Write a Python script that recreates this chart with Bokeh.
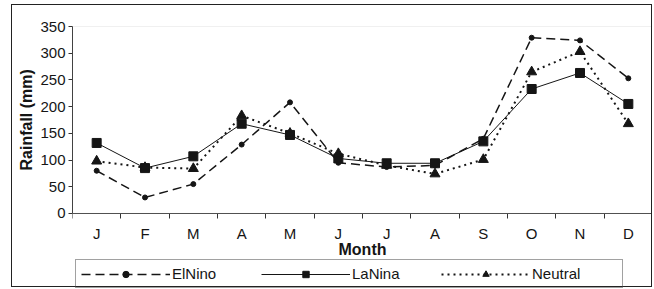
from bokeh.plotting import figure
from bokeh.models import (Range1d, FixedTicker, Legend, LegendItem, BoxAnnotation, Title)
from bokeh.embed import file_html
from bokeh.resources import INLINE

months = ["J", "F", "M", "A", "M", "J", "J", "A", "S", "O", "N", "D"]
elnino = [80, 30, 55, 129, 208, 95, 87, 90, 140, 329, 324, 253]
lanina = [132, 85, 107, 168, 147, 103, 94, 94, 135, 233, 263, 205]
neutral = [98, 86, 84, 183, 150, 112, 90, 74, 101, 265, 303, 168]
y_ticks = [0, 50, 100, 150, 200, 250, 300, 350]
y_min, y_max = 0, 350

x = list(range(1, len(months) + 1))
INK = "#151515"
FONT = "Liberation Sans"

# the frame also holds the legend strip below the x axis (axis fixed at y=0)
p = figure(width=641, height=283, output_backend="svg", toolbar_location=None,
           x_range=Range1d(0.5, len(months) + 0.5), y_range=Range1d(-140.4, y_max),
           min_border_left=60, min_border_right=1, min_border_top=21,
           min_border_bottom=0)
p.margin = (4, 0, 0, 11)
p.styles = {"border": "1px solid #222222"}
p.xgrid.visible = False
p.ygrid.visible = False
p.outline_line_color = None

# plot-area border (grey) around the data region
p.add_layout(BoxAnnotation(left=0.5, right=len(months) + 0.5, bottom=y_min, top=y_max,
                           fill_alpha=0, line_color="#9a9a9a", line_width=1))

# x axis: labels at month centres, tick marks at category boundaries
p.xaxis.fixed_location = y_min
p.xaxis.ticker = FixedTicker(ticks=x, minor_ticks=[v + 0.5 for v in range(0, len(months) + 1)])
p.xaxis.major_label_overrides = {i + 1: m for i, m in enumerate(months)}
p.xaxis.major_tick_out = 0
p.xaxis.major_tick_in = 0
p.xaxis.minor_tick_out = 5
p.xaxis.minor_tick_in = 0
p.xaxis.minor_tick_line_color = "#333333"
p.xaxis.major_label_standoff = 7
p.xaxis.axis_label = "Month"
p.xaxis.axis_label_standoff = -5

p.yaxis.ticker = FixedTicker(ticks=y_ticks, minor_ticks=[])
p.yaxis.bounds = (y_min, y_max)
p.yaxis.major_tick_out = 4
p.yaxis.major_tick_in = 0
p.yaxis.major_label_standoff = 3

for ax in (p.xaxis, p.yaxis):
    ax.axis_line_color = "#333333"
    ax.major_tick_line_color = "#333333"
    ax.major_label_text_font = FONT
    ax.major_label_text_font_size = "15px"
    ax.major_label_text_color = INK
    ax.axis_label_text_font = FONT
    ax.axis_label_text_font_size = "16px"
    ax.axis_label_text_font_style = "bold"
    ax.axis_label_text_color = INK

p.add_layout(Title(text="Rainfall (mm)", align="left", offset=118, standoff=6,
                   text_font=FONT, text_font_size="16px", text_font_style="bold",
                   text_color=INK), "left")

l1 = p.line(x, elnino, line_color=INK, line_width=1.5, line_dash="9 5")
s1 = p.scatter(x, elnino, marker="circle", size=5, fill_color=INK, line_color=INK)
l2 = p.line(x, lanina, line_color=INK, line_width=1)
s2 = p.scatter(x, lanina, marker="square", size=9, fill_color=INK, line_color=INK)
l3 = p.line(x, neutral, line_color=INK, line_width=2, line_dash="2 4")
s3 = p.scatter(x, neutral, marker="triangle", size=10, fill_color=INK, line_color=INK)

legend = Legend(items=[LegendItem(label="ElNino", renderers=[l1, s1]),
                       LegendItem(label="LaNina", renderers=[l2, s2]),
                       LegendItem(label="Neutral", renderers=[l3, s3])],
                orientation="horizontal", location=(3, 0),
                glyph_width=89, glyph_height=16, label_height=16,
                label_width=85, label_standoff=2, spacing=4, padding=5,
                margin=0,
                border_line_color="#444444", border_line_width=1,
                background_fill_alpha=0,
                label_text_font=FONT, label_text_font_size="15px",
                label_text_color=INK)
p.add_layout(legend, "center")

open("out.html", "w").write(file_html(p, INLINE))
